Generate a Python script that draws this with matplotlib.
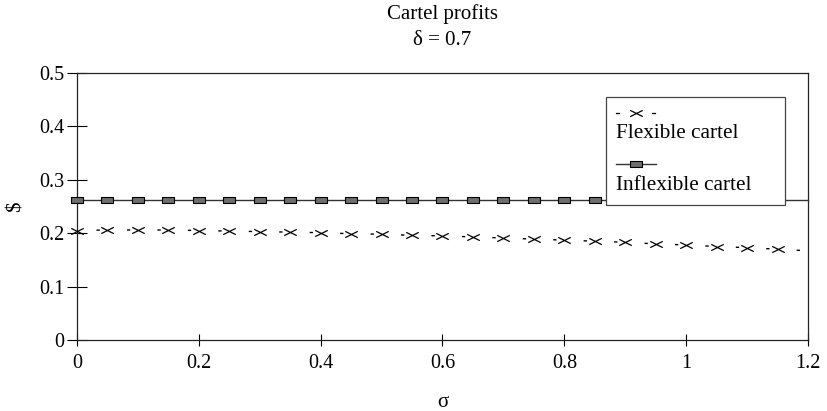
import matplotlib.pyplot as plt
import numpy as np
from matplotlib.lines import Line2D
from matplotlib.patches import Rectangle
from matplotlib.path import Path

plt.rcParams['font.family'] = ['Liberation Serif', 'DejaVu Serif']

sigma = [0.0, 0.05, 0.1, 0.15, 0.2, 0.25, 0.3, 0.35, 0.4, 0.45, 0.5, 0.55,
         0.6, 0.65, 0.7, 0.75, 0.8, 0.85, 0.9, 0.95, 1.0, 1.05, 1.1, 1.15, 1.2]
flexible = [0.205, 0.206, 0.206, 0.206, 0.205, 0.204, 0.203, 0.202, 0.201,
            0.199, 0.198, 0.196, 0.195, 0.193, 0.191, 0.189, 0.187, 0.185,
            0.183, 0.180, 0.178, 0.175, 0.173, 0.170, 0.167]
inflexible = [0.262] * len(sigma)

xticks = [0, 0.2, 0.4, 0.6, 0.8, 1, 1.2]
xticklabels = ['0', '0.2', '0.4', '0.6', '0.8', '1', '1.2']
yticks = [0, 0.1, 0.2, 0.3, 0.4, 0.5]
yticklabels = ['0', '0.1', '0.2', '0.3', '0.4', '0.5']

# wide flat box marker and flattened cross
rect_marker = [(-2, -1), (2, -1), (2, 1), (-2, 1), (-2, -1)]
cross_marker = Path([(-2, -1), (2, 1), (-2, 1), (2, -1)],
                    [Path.MOVETO, Path.LINETO, Path.MOVETO, Path.LINETO])

# marker on every point but the last one (hidden by the frame in the original)
shown = list(range(len(sigma) - 1))

fig = plt.figure(figsize=(8.28, 4.11), dpi=100)
ax = fig.add_axes([77 / 828, 1 - 340 / 411, 731 / 828, 267 / 411])

ax.plot(sigma, inflexible, color='#333333', lw=1.0, marker=rect_marker,
        markersize=9, markerfacecolor='#6e6e6e', markeredgecolor='black',
        markeredgewidth=0.8, markevery=shown, zorder=3, clip_on=False)
# dash period = spacing between points (0.05 -> ~30.5 px = 21.9 pt)
ax.plot(sigma, flexible, color='black', lw=1.0, linestyle=(7.9, (2.4, 19.53)),
        marker=cross_marker, markersize=9, markeredgewidth=0.9,
        markevery=shown, zorder=3, clip_on=False)

ax.set_xlim(0, 1.2)
ax.set_ylim(0, 0.5)
ax.set_xticks(xticks)
ax.set_xticklabels(xticklabels)
ax.set_yticks(yticks)
ax.set_yticklabels(yticklabels)
ax.tick_params(axis='y', direction='inout', length=14, width=0.8,
               labelsize=14.5, pad=2)
ax.tick_params(axis='x', direction='inout', length=8, width=0.8,
               labelsize=14.5, pad=6)
for sp in ax.spines.values():
    sp.set_linewidth(0.9)
    sp.set_color('#222222')

ax.set_xlabel('σ', fontsize=15, labelpad=14.5)
ax.set_ylabel('$', fontsize=15, labelpad=10)
ax.set_title('Cartel profits\nδ = 0.7', fontsize=15, pad=20, linespacing=1.55)

# legend drawn by hand: handle above label
tr = ax.transAxes
def ax_x(px):
    return (px - 77) / 731
def ax_y(py):
    return (340 - py) / 267

box = Rectangle((ax_x(606), ax_y(205)), ax_x(785) - ax_x(606),
                ax_y(97) - ax_y(205), transform=tr, facecolor='white',
                edgecolor='#444444', lw=0.9, zorder=5)
ax.add_patch(box)
ax.add_line(Line2D([ax_x(616), ax_x(619)], [ax_y(113), ax_y(113)],
                   transform=tr, color='black', lw=0.9, zorder=6))
ax.add_line(Line2D([ax_x(652), ax_x(655)], [ax_y(113), ax_y(113)],
                   transform=tr, color='black', lw=0.9, zorder=6))
ax.add_line(Line2D([ax_x(636)], [ax_y(113)], transform=tr, color='black',
                   marker=cross_marker, markersize=9, markeredgewidth=0.9,
                   zorder=6))
ax.text(ax_x(616), ax_y(133), 'Flexible cartel', transform=tr, fontsize=15.3,
        va='center', ha='left', zorder=7)
ax.add_line(Line2D([ax_x(616), ax_x(656)], [ax_y(164), ax_y(164)],
                   transform=tr, color='#333333', lw=1.0, zorder=6))
ax.add_line(Line2D([ax_x(636)], [ax_y(164)], transform=tr, marker=rect_marker,
                   markersize=9, markerfacecolor='#6e6e6e',
                   markeredgecolor='black', markeredgewidth=0.8, zorder=6))
ax.text(ax_x(616), ax_y(186), 'Inflexible cartel', transform=tr, fontsize=15.3,
        va='center', ha='left', zorder=7)

fig.savefig('out.png', dpi=100)
